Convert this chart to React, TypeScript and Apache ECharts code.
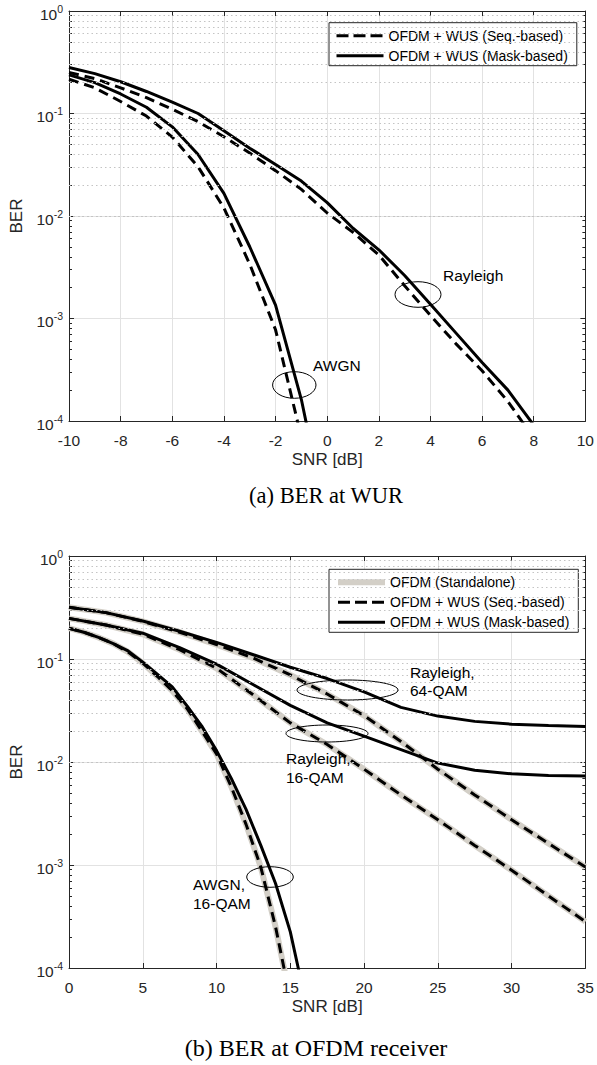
import React, { useEffect, useRef } from "react";
import * as echarts from "echarts";

const SANS = "'Liberation Sans', Arial, Helvetica, sans-serif";
const SERIF = "'Liberation Serif', 'Times New Roman', Times, serif";
const AXIS_COLOR = "#262626";
const GRID_COLOR = "#e2e2e2";
const MINOR_GRID_COLOR = "#c4c4c4";

const NAME_STANDALONE = "OFDM (Standalone)";
const NAME_SEQ = "OFDM + WUS (Seq.-based)";
const NAME_MASK = "OFDM + WUS (Mask-based)";

// ---------- (a) BER at WUR ----------
const xTicksA = [-10, -8, -6, -4, -2, 0, 2, 4, 6, 8, 10];
const snrA_Rayleigh = [-10, -9, -8, -7, -6, -5, -4, -3, -2, -1, 0, 1, 2, 3, 4, 5, 6, 7, 8];
const berA_RayleighSeq = [0.251, 0.219, 0.178, 0.143, 0.11, 0.0832, 0.0593, 0.0411, 0.0277, 0.0182, 0.0107, 0.00692, 0.00417, 0.00209, 0.00107, 0.000562, 0.000309, 0.000155, 0.000068];
const berA_RayleighMask = [0.281, 0.245, 0.204, 0.164, 0.129, 0.1, 0.0679, 0.0459, 0.0318, 0.0219, 0.0135, 0.00759, 0.00468, 0.00263, 0.00138, 0.000716, 0.000372, 0.0002, 0.000091];
const snrA_AWGN = [-10, -9, -8, -7, -6, -5, -4, -3, -2, -1, 0];
const berA_AWGNSeq = [0.216, 0.178, 0.131, 0.0944, 0.0589, 0.0302, 0.012, 0.00339, 0.000776, 0.000069, 0.0000025];
const berA_AWGNMask = [0.238, 0.2, 0.155, 0.115, 0.0741, 0.0398, 0.0166, 0.00501, 0.00135, 0.000162, 0.00001];

// ---------- (b) BER at OFDM receiver ----------
const xTicksB = [0, 5, 10, 15, 20, 25, 30, 35];
const snrB_Rayleigh = [0, 2.5, 5, 7.5, 10, 12.5, 15, 17.5, 20, 22.5, 25, 27.5, 30, 32.5, 35];
const berB_R64Standalone = [0.318, 0.282, 0.232, 0.182, 0.138, 0.102, 0.07, 0.0457, 0.0282, 0.0158, 0.00851, 0.00479, 0.00275, 0.00162, 0.000955];
const berB_R64Seq = [0.318, 0.282, 0.232, 0.182, 0.138, 0.102, 0.07, 0.0457, 0.0282, 0.0158, 0.00851, 0.00479, 0.00275, 0.00162, 0.000955];
const berB_R64Mask = [0.318, 0.282, 0.234, 0.186, 0.145, 0.11, 0.0832, 0.0646, 0.0479, 0.0339, 0.0279, 0.0248, 0.0233, 0.0226, 0.0221];
const berB_R16Standalone = [0.248, 0.214, 0.174, 0.123, 0.0813, 0.0447, 0.024, 0.0148, 0.00851, 0.00479, 0.00275, 0.00155, 0.000891, 0.000501, 0.000282];
const berB_R16Seq = [0.248, 0.214, 0.174, 0.123, 0.0813, 0.0447, 0.024, 0.0148, 0.00851, 0.00479, 0.00275, 0.00155, 0.000891, 0.000501, 0.000282];
const berB_R16Mask = [0.248, 0.214, 0.178, 0.129, 0.0891, 0.0562, 0.0355, 0.024, 0.0178, 0.0132, 0.00977, 0.00832, 0.00767, 0.00741, 0.0073];
const snrB_AWGN = [0, 1, 2, 3, 4, 5, 6, 7, 8, 9, 10, 11, 12, 13, 14, 15, 16];
const berB_AWGNStandalone = [0.199, 0.182, 0.162, 0.141, 0.117, 0.0912, 0.0676, 0.049, 0.0331, 0.02, 0.012, 0.00575, 0.00248, 0.000955, 0.000251, 0.00005, 0.000006];
const berB_AWGNSeq = [0.199, 0.182, 0.162, 0.141, 0.117, 0.0912, 0.0676, 0.049, 0.0331, 0.02, 0.012, 0.00575, 0.00248, 0.000955, 0.000251, 0.00005, 0.000006];
const berB_AWGNMask = [0.199, 0.182, 0.162, 0.141, 0.12, 0.0933, 0.0708, 0.0537, 0.0351, 0.0223, 0.0129, 0.00692, 0.00347, 0.00155, 0.000661, 0.000224, 0.00005];

// y tick exponents (log axis 10^-4 .. 10^0)
const yTickExponents = [-4, -3, -2, -1, 0];

const GRID_A = { left: 68, top: 10, width: 520, height: 411 };
const GRID_B = { left: 68, top: 556, width: 520, height: 412 };

const pairs = (xs: number[], ys: number[]) => xs.map((x, i) => [x, ys[i]]);

const minorGridValues: number[] = [];
for (let e = yTickExponents[0]; e < yTickExponents[yTickExponents.length - 1]; e++) {
  for (let m = 2; m <= 9; m++) minorGridValues.push(Number((m * Math.pow(10, e)).toPrecision(3)));
}

function xAxes(gridIndex: number, ticks: number[]) {
  const base: any = {
    type: "value",
    gridIndex,
    min: ticks[0],
    max: ticks[ticks.length - 1],
    interval: ticks[1] - ticks[0],
    axisLine: { show: true, onZero: false, lineStyle: { color: AXIS_COLOR, width: 1 } },
    axisTick: { show: true, inside: true, length: 5, lineStyle: { color: AXIS_COLOR, width: 1 } },
  };
  return [
    {
      ...base,
      position: "bottom",
      axisLabel: { show: true, fontSize: 15.5, fontFamily: SANS, color: AXIS_COLOR, margin: 11 },
      splitLine: { show: true, lineStyle: { color: GRID_COLOR, width: 1 } },
      name: "SNR [dB]",
      nameLocation: "middle",
      nameGap: 30,
      nameTextStyle: { fontSize: 17, fontFamily: SANS, color: AXIS_COLOR },
    },
    { ...base, position: "top", axisLabel: { show: false }, splitLine: { show: false } },
  ];
}

function yAxes(gridIndex: number) {
  const base: any = {
    type: "log",
    logBase: 10,
    gridIndex,
    min: Math.pow(10, yTickExponents[0]),
    max: Math.pow(10, yTickExponents[yTickExponents.length - 1]),
    axisLine: { show: true, onZero: false, lineStyle: { color: AXIS_COLOR, width: 1 } },
    axisTick: { show: true, inside: true, length: 5, lineStyle: { color: AXIS_COLOR, width: 1 } },
    minorTick: { show: true, splitNumber: 9, length: 3, lineStyle: { color: AXIS_COLOR, width: 1 } },
  };
  return [
    {
      ...base,
      position: "left",
      axisLabel: {
        show: true,
        margin: 6,
        formatter: (v: number) => `{b|10}{s|${Math.round(Math.log10(v))}}`,
        rich: {
          b: { fontSize: 15.5, fontFamily: SANS, color: AXIS_COLOR, lineHeight: 22, verticalAlign: "bottom" },
          s: { fontSize: 10.5, fontFamily: SANS, color: AXIS_COLOR, lineHeight: 12, verticalAlign: "top", padding: [3, 0, 0, 0] },
        },
      },
      splitLine: { show: true, lineStyle: { color: GRID_COLOR, width: 1 } },
      name: "BER",
      nameLocation: "middle",
      nameGap: 44,
      nameTextStyle: { fontSize: 17, fontFamily: SANS, color: AXIS_COLOR },
    },
    { ...base, position: "right", axisLabel: { show: false }, splitLine: { show: false } },
  ];
}

const STYLE_STANDALONE = { color: "#d3cfc7", width: 6, type: "solid" };
const STYLE_SEQ = { color: "#000", width: 3, type: [10, 6] };
const STYLE_MASK = { color: "#000", width: 3, type: "solid" };

function line(name: string, xs: number[], ys: number[], axisIdx: number, style: any, z: number) {
  return {
    type: "line",
    name,
    xAxisIndex: axisIdx,
    yAxisIndex: axisIdx,
    data: pairs(xs, ys),
    symbol: "none",
    showSymbol: false,
    clip: true,
    silent: true,
    z,
    lineStyle: style,
    itemStyle: { color: style.color },
    emphasis: { disabled: true },
  };
}

function minorGridSeries(axisIdx: number) {
  return {
    type: "line",
    name: "minor-grid",
    xAxisIndex: axisIdx,
    yAxisIndex: axisIdx,
    data: [],
    silent: true,
    z: 1,
    markLine: {
      silent: true,
      symbol: ["none", "none"],
      label: { show: false },
      emphasis: { disabled: true },
      lineStyle: { color: MINOR_GRID_COLOR, width: 1, type: [1.5, 3] },
      data: minorGridValues.map((v) => ({ yAxis: v })),
    },
  };
}

const legendBase: any = {
  orient: "vertical",
  left: 329,
  itemWidth: 47,
  itemHeight: 14,
  itemGap: 4,
  padding: [5, 9, 2, 6],
  backgroundColor: "#fff",
  borderColor: AXIS_COLOR,
  borderWidth: 1,
  borderRadius: 0,
  selectedMode: false,
  itemStyle: { opacity: 0, color: "transparent", borderWidth: 0 },
  textStyle: { fontSize: 14, fontFamily: SANS, color: "#000", lineHeight: 16 },
};

const legendStandalone = { name: NAME_STANDALONE, lineStyle: { color: "#d3cfc7", width: 6, type: "solid" } };
const legendSeq = { name: NAME_SEQ, lineStyle: { color: "#000", width: 3, type: [12, 5] } };
const legendMask = { name: NAME_MASK, lineStyle: { color: "#000", width: 3, type: "solid" } };

const annotationTexts = [
  { text: "Rayleigh", x: 443, y: 275 },
  { text: "AWGN", x: 313, y: 365 },
  { text: "Rayleigh,", x: 410, y: 672 },
  { text: "64-QAM", x: 410, y: 690 },
  { text: "Rayleigh,", x: 286, y: 758 },
  { text: "16-QAM", x: 286, y: 777 },
  { text: "AWGN,", x: 193, y: 884 },
  { text: "16-QAM", x: 193, y: 903 },
];
const annotationEllipses = [
  { cx: 418, cy: 294.5, rx: 23, ry: 12.8 },
  { cx: 294.3, cy: 385, rx: 21.7, ry: 13.3 },
  { cx: 347.5, cy: 690, rx: 50.5, ry: 10 },
  { cx: 327, cy: 733.5, rx: 41, ry: 8.5 },
  { cx: 270, cy: 877, rx: 23.3, ry: 10.3 },
];
const captions = [
  { text: "(a) BER at WUR", x: 326, y: 495, size: 22.5 },
  { text: "(b) BER at OFDM receiver", x: 316, y: 1048, size: 24 },
];

function buildOption(): any {
  return {
    animation: false,
    backgroundColor: "#fff",
    grid: [GRID_A, GRID_B],
    xAxis: [...xAxes(0, xTicksA), ...xAxes(1, xTicksB)],
    yAxis: [...yAxes(0), ...yAxes(1)],
    legend: [
      { ...legendBase, top: 22.7, data: [legendSeq, legendMask] },
      { ...legendBase, top: 569.3, data: [legendStandalone, legendSeq, legendMask] },
    ],
    series: [
      minorGridSeries(0),
      line(NAME_SEQ, snrA_Rayleigh, berA_RayleighSeq, 0, STYLE_SEQ, 3),
      line(NAME_MASK, snrA_Rayleigh, berA_RayleighMask, 0, STYLE_MASK, 4),
      line(NAME_SEQ, snrA_AWGN, berA_AWGNSeq, 0, STYLE_SEQ, 3),
      line(NAME_MASK, snrA_AWGN, berA_AWGNMask, 0, STYLE_MASK, 4),

      minorGridSeries(2),
      line(NAME_STANDALONE, snrB_Rayleigh, berB_R64Standalone, 2, STYLE_STANDALONE, 2),
      line(NAME_STANDALONE, snrB_Rayleigh, berB_R16Standalone, 2, STYLE_STANDALONE, 2),
      line(NAME_STANDALONE, snrB_AWGN, berB_AWGNStandalone, 2, STYLE_STANDALONE, 2),
      line(NAME_SEQ, snrB_Rayleigh, berB_R64Seq, 2, STYLE_SEQ, 3),
      line(NAME_SEQ, snrB_Rayleigh, berB_R16Seq, 2, STYLE_SEQ, 3),
      line(NAME_SEQ, snrB_AWGN, berB_AWGNSeq, 2, STYLE_SEQ, 3),
      line(NAME_MASK, snrB_Rayleigh, berB_R64Mask, 2, STYLE_MASK, 4),
      line(NAME_MASK, snrB_Rayleigh, berB_R16Mask, 2, STYLE_MASK, 4),
      line(NAME_MASK, snrB_AWGN, berB_AWGNMask, 2, STYLE_MASK, 4),
    ],
    graphic: [
      ...annotationEllipses.map((e) => ({
        type: "ellipse",
        shape: { cx: e.cx, cy: e.cy, rx: e.rx, ry: e.ry },
        style: { fill: "none", stroke: "#000", lineWidth: 1 },
        silent: true,
        z: 100,
      })),
      ...annotationTexts.map((t) => ({
        type: "text",
        x: t.x,
        y: t.y,
        silent: true,
        z: 100,
        style: { text: t.text, fontSize: 15.5, fontFamily: SANS, fill: "#000", align: "left", verticalAlign: "middle" },
      })),
      ...captions.map((c) => ({
        type: "text",
        x: c.x,
        y: c.y,
        silent: true,
        z: 100,
        style: { text: c.text, fontSize: c.size, fontFamily: SERIF, fill: "#000", align: "center", verticalAlign: "middle" },
      })),
    ],
  };
}

export default function App() {
  const ref = useRef<HTMLDivElement>(null);
  useEffect(() => {
    if (!ref.current) return;
    const chart = echarts.init(ref.current, undefined, { renderer: "svg" });
    chart.setOption(buildOption());
    return () => chart.dispose();
  }, []);
  return (
    <div
      ref={ref}
      style={{ position: "absolute", left: 0, top: 0, width: 597, height: 1065, background: "#fff" }}
    />
  );
}
